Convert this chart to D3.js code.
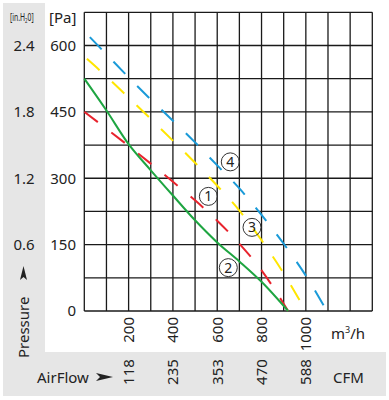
<!DOCTYPE html>
<html>
<head>
<meta charset="utf-8">
<script src="https://cdn.jsdelivr.net/npm/d3@7"></script>
<style>
  body { margin: 0; background: #fff; }
  text { font-family: "Noto Sans", "DejaVu Sans", sans-serif; fill: #222; }
</style>
</head>
<body>
<div id="chart"></div>
<script>
var width = 389;
var height = 400;

// airflow ticks (m3/h) and matching CFM labels
var flowTicks = [200, 400, 600, 800, 1000];
var cfmLabels = ["118", "235", "353", "470", "588"];

// pressure ticks
var paTicks = [0, 150, 300, 450, 600];
var inchTicks = [600, 450, 300, 150];
var inchLabels = ["2.4", "1.8", "1.2", "0.6"];

// fan curves
var flow1 = [0, 100, 200, 300, 400, 500, 600, 700, 800, 920];
var pres1 = [450, 412, 373, 333, 292, 250, 204, 152, 92, 0];

var flow2 = [0, 100, 200, 300, 400, 500, 600, 700, 800, 920];
var pres2 = [525, 453, 377, 318, 261, 205, 155, 112, 66, 0];

var flow3 = [0, 100, 200, 300, 400, 500, 600, 700, 800, 900, 1000];
var pres3 = [575, 530, 482, 434, 385, 335, 283, 227, 160, 85, 0];

var flow4 = [0, 100, 200, 300, 400, 500, 600, 700, 800, 900, 1000, 1095];
var pres4 = [632, 580, 528, 478, 430, 381, 329, 277, 217, 152, 80, 0];

// curve number tags
var tagNames = ["1", "2", "3", "4"];
var tagFlow = [560, 650, 757, 659];
var tagPres = [259, 98, 189, 337];

var xScale = d3.scaleLinear().domain([0, 1300]).range([84.3, 372.3]);
var yScale = d3.scaleLinear().domain([0, 675]).range([311, 12.3]);

var svg = d3.select("#chart")
    .append("svg")
    .attr("width", width)
    .attr("height", height);

// grey side and bottom bands
svg.append("rect")
    .attr("x", 3).attr("y", 3)
    .attr("width", 42).attr("height", 350)
    .attr("fill", "#e6e6e6");
svg.append("rect")
    .attr("x", 3).attr("y", 352)
    .attr("width", 383).attr("height", 44)
    .attr("fill", "#e6e6e6");

// grid
var grid = svg.append("g").attr("stroke", "#1a1a1a").attr("stroke-width", 1.3);
grid.selectAll(".vline")
    .data(d3.range(0, 1301, 100))
    .enter().append("line")
    .attr("x1", function(d) { return xScale(d); })
    .attr("x2", function(d) { return xScale(d); })
    .attr("y1", yScale(0))
    .attr("y2", yScale(675));
grid.selectAll(".hline")
    .data(d3.range(0, 676, 75))
    .enter().append("line")
    .attr("x1", xScale(0))
    .attr("x2", xScale(1300))
    .attr("y1", function(d) { return yScale(d); })
    .attr("y2", function(d) { return yScale(d); });

// curves
var line = d3.line()
    .x(function(d) { return xScale(d[0]); })
    .y(function(d) { return yScale(d[1]); })
    .curve(d3.curveMonotoneX);

function drawCurve(fl, pr, color, dash, offset) {
    var pts = fl.map(function(f, i) { return [f, pr[i]]; });
    svg.append("path")
        .datum(pts)
        .attr("d", line)
        .attr("fill", "none")
        .attr("stroke", color)
        .attr("stroke-width", 2)
        .attr("stroke-dasharray", dash)
        .attr("stroke-dashoffset", offset);
}

drawCurve(flow1, pres1, "#e8232d", "17,17", 0);
drawCurve(flow3, pres3, "#ffe600", "17,17", 30.5);
drawCurve(flow4, pres4, "#1a9ad8", "17,17", 26);
drawCurve(flow2, pres2, "#1ea541", null, 0);

// circled numbers
var tags = svg.selectAll(".tag")
    .data(tagNames)
    .enter().append("g")
    .attr("transform", function(d, i) {
        return "translate(" + xScale(tagFlow[i]) + "," + yScale(tagPres[i]) + ")"; });
tags.append("circle")
    .attr("r", 9)
    .attr("fill", "none")
    .attr("stroke", "#333")
    .attr("stroke-width", 1);
tags.append("text")
    .attr("text-anchor", "middle")
    .attr("dy", "0.36em")
    .style("font-size", "14px")
    .text(function(d) { return d; });

// left axis labels
svg.selectAll(".pa")
    .data(paTicks)
    .enter().append("text")
    .attr("x", 76)
    .attr("y", function(d) { return yScale(d); })
    .attr("dy", "0.36em")
    .attr("text-anchor", "end")
    .style("font-size", "15px")
    .text(function(d) { return d; });

svg.selectAll(".inch")
    .data(inchTicks)
    .enter().append("text")
    .attr("x", 24)
    .attr("y", function(d) { return yScale(d); })
    .attr("dy", "0.36em")
    .attr("text-anchor", "middle")
    .style("font-size", "15px")
    .text(function(d, i) { return inchLabels[i]; });

svg.append("text")
    .attr("x", 49).attr("y", 23)
    .style("font-size", "15px")
    .text("[Pa]");

// narrow unit label, squeezed horizontally
var inch = svg.append("text")
    .attr("transform", "translate(10,21) scale(0.62,1)")
    .style("font-size", "11px");
inch.append("tspan").text("[in.H");
inch.append("tspan").attr("dy", 2).style("font-size", "7px").text("2");
inch.append("tspan").attr("dy", -2).text("0]");

// Pressure label with arrow
var pLabel = svg.append("g").attr("transform", "translate(29,358) rotate(-90)");
pLabel.append("text")
    .attr("x", 0).attr("y", 0)
    .style("font-size", "15px")
    .text("Pressure");
pLabel.append("path")
    .attr("d", "M78,-9 L92,-5.5 L78,-2 L81,-5.5 Z")
    .attr("fill", "#222");

// bottom flow labels
svg.selectAll(".flow")
    .data(flowTicks)
    .enter().append("text")
    .attr("transform", function(d) {
        return "translate(" + xScale(d) + ",317) rotate(-90)"; })
    .attr("dy", "0.36em")
    .attr("text-anchor", "end")
    .style("font-size", "15px")
    .text(function(d) { return d; });

var unit = svg.append("text")
    .attr("x", 331).attr("y", 339)
    .style("font-size", "15px");
unit.append("tspan").text("m");
unit.append("tspan").attr("dy", -6).style("font-size", "9px").text("3");
unit.append("tspan").attr("dy", 6).text("/h");

// CFM row
svg.selectAll(".cfm")
    .data(flowTicks)
    .enter().append("text")
    .attr("transform", function(d) {
        return "translate(" + xScale(d) + ",372) rotate(-90)"; })
    .attr("dy", "0.36em")
    .attr("text-anchor", "middle")
    .style("font-size", "15px")
    .text(function(d, i) { return cfmLabels[i]; });

svg.append("text")
    .attr("x", 37).attr("y", 383)
    .style("font-size", "15px")
    .text("AirFlow");
svg.append("path")
    .attr("d", "M96,373 L113,377 L96,381 L100,377 Z")
    .attr("fill", "#222");

svg.append("text")
    .attr("x", 333).attr("y", 383)
    .style("font-size", "15px")
    .text("CFM");
</script>
</body>
</html>
